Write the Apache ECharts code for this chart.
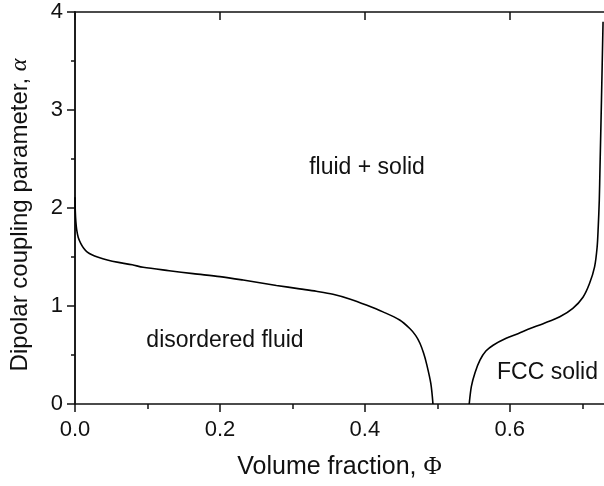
<!DOCTYPE html>
<html>
<head>
<meta charset="utf-8">
<script src="https://cdn.jsdelivr.net/npm/echarts@6/dist/echarts.min.js"></script>
<style>html,body{margin:0;padding:0;background:#fff;}#c{width:604px;height:486px;}</style>
</head>
<body>
<div id="c"></div>
<script>
// Fluid boundary (volume fraction, alpha)
const fluidPhi   = [0.0, 0.0005, 0.0012, 0.0023, 0.0045, 0.0079, 0.012, 0.017, 0.024, 0.031, 0.0446, 0.06, 0.079, 0.094, 0.13, 0.163, 0.2, 0.232, 0.278, 0.31, 0.333, 0.356, 0.38, 0.402, 0.425, 0.448, 0.462, 0.47, 0.476, 0.481, 0.485, 0.491, 0.494];
const fluidAlpha = [2.11, 1.95, 1.86, 1.78, 1.70, 1.64, 1.59, 1.55, 1.52, 1.50, 1.47, 1.445, 1.42, 1.395, 1.36, 1.33, 1.30, 1.265, 1.21, 1.175, 1.15, 1.12, 1.07, 1.01, 0.94, 0.857, 0.77, 0.70, 0.62, 0.52, 0.415, 0.21, 0.0];
// Solid boundary
const solidPhi   = [0.544, 0.547, 0.552, 0.559, 0.567, 0.577, 0.595, 0.612, 0.628, 0.646, 0.669, 0.687, 0.701, 0.710, 0.717, 0.7205, 0.722, 0.7235, 0.7245, 0.7265, 0.7287];
const solidAlpha = [0.0, 0.18, 0.32, 0.45, 0.54, 0.60, 0.67, 0.72, 0.77, 0.82, 0.89, 0.976, 1.09, 1.23, 1.40, 1.60, 1.80, 2.08, 2.42, 3.10, 3.90];
// Region labels
const regionNames = ['fluid + solid', 'disordered fluid', 'FCC solid'];
const regionPhi   = [0.403, 0.207, 0.652];
const regionAlpha = [2.41, 0.643, 0.316];
// Ticks
const xMajorTicks = [0, 0.2, 0.4, 0.6];
const xMinorTicks = [0.1, 0.3, 0.5, 0.7];
const yTickLabels = ['0', '1', '2', '3', '4'];

const zip = (a, b) => a.map((v, i) => [v, b[i]]);
const FONT = 'Liberation Sans, Arial, sans-serif';
const SERIF = 'Liberation Serif, Times New Roman, serif';
const INK = '#111';
const XMIN = 0, XMAX = 0.73;

function xAxisBase(pos, extra) {
  return Object.assign({
    type: 'value', position: pos, min: XMIN, max: XMAX,
    splitLine: { show: false },
    axisLine: { show: true, onZero: false, lineStyle: { color: INK, width: 1.5 } },
    axisLabel: { show: false },
  }, extra);
}

const option = {
  animation: false,
  backgroundColor: '#fff',
  grid: { left: 75, top: 12, right: 0, bottom: 82 },
  xAxis: [
    xAxisBase('bottom', {
      name: 'Volume fraction, {p|Φ}',
      nameLocation: 'middle', nameGap: 51,
      nameTextStyle: { fontFamily: FONT, fontSize: 25, color: INK, verticalAlign: 'top',
        rich: { p: { fontFamily: SERIF, fontSize: 25, color: INK } } },
      axisTick: { show: true, inside: false, length: 8, customValues: xMajorTicks, lineStyle: { color: INK, width: 1.5 } },
      axisLabel: { show: true, customValues: xMajorTicks, margin: 15, fontFamily: FONT, fontSize: 22, color: INK,
        formatter: v => v.toFixed(1) },
    }),
    xAxisBase('bottom', {
      axisLine: { show: false },
      axisTick: { show: true, inside: false, length: 5, customValues: xMinorTicks, lineStyle: { color: INK, width: 1.5 } },
    }),
    xAxisBase('top', {
      axisTick: { show: true, inside: true, length: 8, customValues: xMajorTicks, lineStyle: { color: INK, width: 1.5 } },
    }),
    xAxisBase('top', {
      axisLine: { show: false },
      axisTick: { show: true, inside: true, length: 5, customValues: xMinorTicks, lineStyle: { color: INK, width: 1.5 } },
    }),
  ],
  yAxis: [
    {
      type: 'value', position: 'left', min: 0, max: 4, interval: 1,
      name: 'Dipolar coupling parameter, {a|α}',
      nameLocation: 'middle', nameGap: 43,
      nameTextStyle: { fontFamily: FONT, fontSize: 24, color: INK, padding: [0, 14, 0, 0],
        rich: { a: { fontFamily: SERIF, fontStyle: 'italic', fontSize: 24, color: INK } } },
      splitLine: { show: false },
      axisLine: { show: true, lineStyle: { color: INK, width: 1.5 } },
      axisTick: { show: true, inside: false, length: 8, lineStyle: { color: INK, width: 1.5 } },
      minorTick: { show: true, splitNumber: 2, length: 4, lineStyle: { color: INK, width: 1.5 } },
      axisLabel: { margin: 12, fontFamily: FONT, fontSize: 22, color: INK,
        formatter: v => yTickLabels[Math.round(v)] },
    },
    {
      type: 'value', position: 'right', min: 0, max: 4, interval: 1,
      splitLine: { show: false },
      axisLine: { show: true, lineStyle: { color: INK, width: 1.5 } },
      axisTick: { show: true, inside: true, length: 5, lineStyle: { color: INK, width: 1.5 } },
      minorTick: { show: false },
      axisLabel: { show: false },
    },
  ],
  series: [
    { type: 'line', data: zip(fluidPhi, fluidAlpha), smooth: 0.3, showSymbol: false,
      lineStyle: { color: '#000', width: 1.6 }, silent: true, clip: true },
    { type: 'line', data: zip(solidPhi, solidAlpha), smooth: 0.3, showSymbol: false,
      lineStyle: { color: '#000', width: 1.6 }, silent: true, clip: true },
    { type: 'scatter', symbolSize: 0, silent: true,
      data: regionNames.map((n, i) => ({ name: n, value: [regionPhi[i], regionAlpha[i]] })),
      label: { show: true, position: 'inside', formatter: p => p.name,
        fontFamily: FONT, fontSize: 23, color: INK, textBorderWidth: 0, opacity: 1 } },
  ],
};

echarts.init(document.getElementById('c'), null, { renderer: 'canvas' }).setOption(option);
</script>
</body>
</html>
